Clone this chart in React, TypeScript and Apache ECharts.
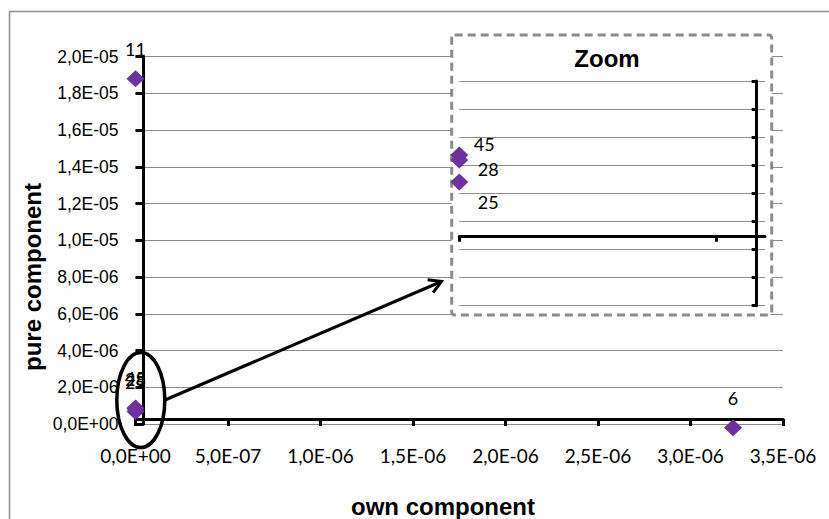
import React, { useEffect, useRef } from "react";
import * as echarts from "echarts";

// ---- data ----
const pointNames = ["11", "6", "25", "28", "45"];
const ownComponent = [0, 3.23e-6, 0, 0, 0];
const pureComponent = [1.88e-5, -2.0e-7, 6.8e-7, 8.37e-7, 8.73e-7];
const zoomedNames = ["25", "28", "45"];

// axis ranges
const xMin = 0;
const xMax = 3.5e-6;
const xStep = 5e-7;
const yMin = 0;
const yMax = 2e-5;
const yStep = 2e-6;
const zoomYMin = -2e-7;
const zoomYMax = 1.4e-6;
const zoomYStep = 2e-7;
const zoomXMin = 0;
const zoomXMax = 5.95e-9;
const zoomXStep = 5e-9;
const zoomXTicks = [0, 5e-9];

const xTitle = "own component";
const yTitle = "pure component";
const zoomTitle = "Zoom";

function sci(v: number): string {
  const s = Number(v).toExponential(1);
  const [m, e] = s.split("e");
  const n = parseInt(e, 10);
  const sign = n < 0 ? "-" : "+";
  return m.replace(".", ",") + "E" + sign + String(Math.abs(n)).padStart(2, "0");
}

const PURPLE = "#7030a0";
const GRID_GRAY = "#8c8c8c";

const labelOffsets: Record<string, number[]> = {
  "45": [25, -11],
  "28": [29, 9],
  "25": [29, 20],
};

function buildOption() {
  const mainData = pointNames.map((n, i) => ({
    name: n,
    value: [ownComponent[i], pureComponent[i]],
  }));
  const zoomData = pointNames
    .map((n, i) => ({ n, i }))
    .filter((d) => zoomedNames.includes(d.n))
    .map(({ n, i }) => ({
      name: n,
      value: [ownComponent[i], pureComponent[i]],
      label: { offset: labelOffsets[n] },
    }));

  // arrow geometry (decoration)
  const ax0 = 165, ay0 = 400, ax1 = 441.5, ay1 = 281.5;
  const len = Math.hypot(ax1 - ax0, ay1 - ay0);
  const ux = (ax0 - ax1) / len, uy = (ay0 - ay1) / len;
  const head = 14, c = Math.cos(Math.PI / 6), s = Math.sin(Math.PI / 6);
  const h1 = [ax1 + head * (ux * c - uy * s), ay1 + head * (ux * s + uy * c)];
  const h2 = [ax1 + head * (ux * c + uy * s), ay1 + head * (-ux * s + uy * c)];

  const labelStyle = {
    fontFamily: "Lato",
    fontSize: 18,
    color: "#000",
    opacity: 1,
  };

  return {
    animation: false,
    backgroundColor: "#ffffff",
    grid: [
      { left: 135.5, right: 46, top: 56.7, bottom: 95, containLabel: false },
      { left: 459.3, right: 64, top: 81, bottom: 213.3, containLabel: false },
    ],
    xAxis: [
      {
        type: "value",
        gridIndex: 0,
        min: xMin,
        max: xMax,
        interval: xStep,
        position: "bottom",
        offset: -5,
        axisLine: { show: true, onZero: false, lineStyle: { color: "#000", width: 3 } },
        axisTick: { show: true, inside: false, length: 7, lineStyle: { color: "#000", width: 3 } },
        axisLabel: {
          show: true,
          margin: 27,
          formatter: (v: number) => sci(v),
          fontFamily: "Lato",
          fontSize: 19,
          color: "#000",
        },
        splitLine: { show: false },
      },
      {
        type: "value",
        gridIndex: 1,
        min: zoomXMin,
        max: zoomXMax,
        interval: zoomXStep,
        position: "bottom",
        offset: -69,
        z: 3,
        axisLine: { show: true, onZero: false, lineStyle: { color: "#000", width: 3 } },
        axisTick: {
          show: true,
          inside: false,
          length: 5,
          customValues: zoomXTicks,
          lineStyle: { color: "#000", width: 3 },
        },
        axisLabel: { show: false },
        splitLine: { show: false },
      },
    ],
    yAxis: [
      {
        type: "value",
        gridIndex: 0,
        min: yMin,
        max: yMax,
        interval: yStep,
        position: "left",
        offset: -8,
        axisLine: { show: true, onZero: false, lineStyle: { color: "#000", width: 3 } },
        axisTick: { show: true, inside: false, length: 8, lineStyle: { color: "#000", width: 3 } },
        axisLabel: {
          show: true,
          margin: 25,
          formatter: (v: number) => sci(v),
          fontFamily: "Liberation Sans",
          fontSize: 17.5,
          color: "#000",
        },
        splitLine: { show: true, lineStyle: { color: GRID_GRAY, width: 1 } },
      },
      {
        type: "value",
        gridIndex: 1,
        min: zoomYMin,
        max: zoomYMax,
        interval: zoomYStep,
        position: "right",
        offset: -8.3,
        z: 3,
        axisLine: { show: true, onZero: false, lineStyle: { color: "#000", width: 3 } },
        axisTick: { show: true, inside: true, length: 5, lineStyle: { color: "#000", width: 3 } },
        axisLabel: { show: false },
        splitLine: { show: true, lineStyle: { color: GRID_GRAY, width: 1 } },
      },
    ],
    series: [
      {
        type: "scatter",
        xAxisIndex: 0,
        yAxisIndex: 0,
        clip: false,
        symbol: "diamond",
        symbolSize: [18, 17],
        itemStyle: { color: PURPLE, opacity: 1 },
        data: mainData,
        label: {
          show: true,
          position: "top",
          distance: 12,
          formatter: "{b}",
          ...labelStyle,
        },
        z: 2,
      },
      {
        type: "scatter",
        xAxisIndex: 1,
        yAxisIndex: 1,
        clip: false,
        symbol: "diamond",
        symbolSize: [18, 17],
        itemStyle: { color: PURPLE, opacity: 1 },
        data: zoomData,
        label: {
          show: true,
          position: "inside",
          formatter: "{b}",
          ...labelStyle,
        },
        z: 4,
      },
    ],
    graphic: {
      elements: [
        {
          type: "rect",
          z: 10,
          silent: true,
          shape: { x: 9.5, y: 11.5, width: 840, height: 530 },
          style: { fill: "none", stroke: "#8c8c8c", lineWidth: 1.5 },
        },
        {
          type: "rect",
          z: 1,
          silent: true,
          shape: { x: 451.7, y: 35, width: 320, height: 280, r: 3 },
          style: { fill: "#ffffff", stroke: "#8c8c8c", lineWidth: 3, lineDash: [8, 5] },
        },
        {
          type: "text",
          z: 5,
          x: 607,
          y: 58,
          style: {
            text: zoomTitle,
            fontFamily: "Liberation Sans",
            fontWeight: "bold",
            fontSize: 24,
            fill: "#000",
            align: "center",
            verticalAlign: "middle",
          },
        },
        {
          type: "ellipse",
          z: 6,
          silent: true,
          shape: { cx: 140.8, cy: 400, rx: 24, ry: 47.5 },
          style: { fill: "none", stroke: "#000", lineWidth: 3.5 },
        },
        {
          type: "line",
          z: 6,
          silent: true,
          shape: { x1: ax0, y1: ay0, x2: ax1, y2: ay1 },
          style: { stroke: "#000", lineWidth: 3 },
        },
        {
          type: "polyline",
          z: 6,
          silent: true,
          shape: { points: [h1, [ax1, ay1], h2] },
          style: { fill: "none", stroke: "#000", lineWidth: 3, lineJoin: "miter" },
        },
        {
          type: "text",
          z: 5,
          x: 443,
          y: 506,
          style: {
            text: xTitle,
            fontFamily: "Liberation Sans",
            fontWeight: "bold",
            fontSize: 24,
            fill: "#000",
            align: "center",
            verticalAlign: "middle",
          },
        },
        {
          type: "text",
          z: 5,
          x: 32,
          y: 277,
          rotation: Math.PI / 2,
          style: {
            text: yTitle,
            fontFamily: "Liberation Sans",
            fontWeight: "bold",
            fontSize: 24,
            fill: "#000",
            align: "center",
            verticalAlign: "middle",
          },
        },
      ],
    },
  };
}

export default function App() {
  const ref = useRef<HTMLDivElement>(null);
  useEffect(() => {
    if (!ref.current) return;
    const chart = echarts.init(ref.current, null, { renderer: "svg" });
    chart.setOption(buildOption() as any);
    return () => {
      chart.dispose();
    };
  }, []);
  return (
    <div
      ref={ref}
      style={{
        position: "fixed",
        left: 0,
        top: 0,
        width: 829,
        height: 519,
        background: "#ffffff",
      }}
    />
  );
}
